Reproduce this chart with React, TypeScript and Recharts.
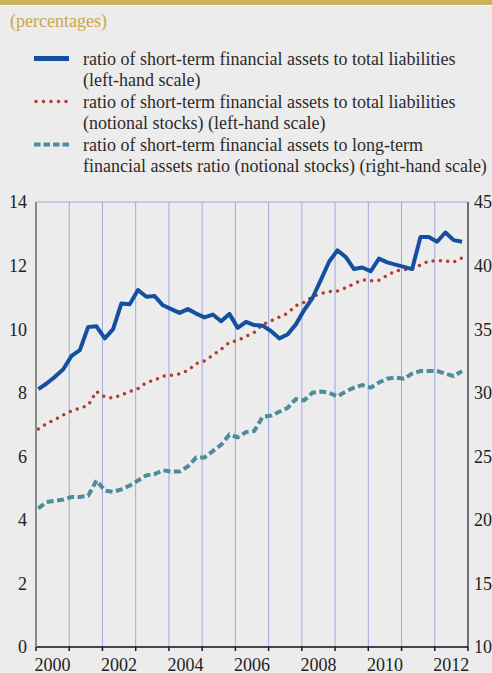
import React from 'react';
import { LineChart, Line, XAxis, YAxis, CartesianGrid } from 'recharts';

const FONT = '"Liberation Serif", "Times New Roman", serif';

const years = [2000, 2001, 2002, 2003, 2004, 2005, 2006, 2007, 2008, 2009, 2010, 2011, 2012];
const quarterNames = ['Q1', 'Q2', 'Q3', 'Q4'];

// ratio of short-term financial assets to total liabilities (left-hand scale)
const shortToTotal = [
  8.11, 8.29, 8.5, 8.74, 9.16, 9.34, 10.07, 10.09, 9.71, 10.0, 10.81, 10.78, 11.23,
  11.02, 11.04, 10.75, 10.63, 10.51, 10.63, 10.49, 10.37, 10.46, 10.25, 10.48, 10.04, 10.23,
  10.13, 10.11, 9.94, 9.71, 9.83, 10.15, 10.6, 10.98, 11.54, 12.12, 12.48, 12.27, 11.89,
  11.94, 11.82, 12.22, 12.1, 12.03, 11.96, 11.89, 12.9, 12.9, 12.75, 13.04, 12.8, 12.75,
];

// same ratio, notional stocks (left-hand scale)
const shortToTotalNotional = [
  6.86, 7.03, 7.15, 7.3, 7.43, 7.51, 7.6, 8.04, 7.87, 7.83, 7.93, 8.04, 8.13,
  8.32, 8.4, 8.52, 8.55, 8.59, 8.7, 8.92, 9.0, 9.18, 9.37, 9.58, 9.65, 9.77,
  9.9, 10.15, 10.26, 10.38, 10.5, 10.74, 10.84, 11.02, 11.12, 11.18, 11.2, 11.3, 11.43,
  11.55, 11.52, 11.54, 11.69, 11.83, 11.87, 11.9, 12.02, 12.14, 12.15, 12.15, 12.11, 12.24,
];

// short-term to long-term financial assets, notional stocks (right-hand scale)
const shortToLongNotional = [
  20.9, 21.4, 21.5, 21.6, 21.8, 21.8, 21.9, 23.1, 22.3, 22.2, 22.4, 22.7, 23.1,
  23.5, 23.6, 23.9, 23.8, 23.8, 24.2, 24.9, 24.9, 25.4, 25.9, 26.7, 26.5, 26.9,
  27.0, 28.1, 28.2, 28.5, 28.8, 29.5, 29.4, 30.0, 30.1, 30.0, 29.7, 30.1, 30.4,
  30.6, 30.4, 30.8, 31.1, 31.2, 31.1, 31.5, 31.7, 31.7, 31.7, 31.5, 31.3, 31.7,
];

const leftTicks = [0, 2, 4, 6, 8, 10, 12, 14];
const rightTicks = [10, 15, 20, 25, 30, 35, 40, 45];
const yearTicks = [2000, 2001, 2002, 2003, 2004, 2005, 2006, 2007, 2008, 2009, 2010, 2011, 2012, 2013];
const labelYears = [2000, 2002, 2004, 2006, 2008, 2010, 2012];

const data = years.flatMap((year, yi) =>
  quarterNames.map((q, qi) => {
    const i = yi * 4 + qi;
    return {
      quarter: `${year}${q}`,
      t: year + (qi + 0.28) / 4,
      a: shortToTotal[i],
      b: shortToTotalNotional[i],
      c: shortToLongNotional[i],
    };
  })
);

const BLUE = '#1550a0';
const RED = '#b23b2f';
const TEAL = '#4d8c9c';
const GRID = '#9da8e2';

const YearTick = (props: any) => {
  const { x, y, payload } = props;
  if (!labelYears.includes(payload.value)) return <g />;
  return (
    <text x={x + 16.6} y={y} dy={18} textAnchor="middle" fill="#222" fontSize={18} fontFamily={FONT}>
      {payload.value}
    </text>
  );
};

const legendItems = [
  { color: BLUE, dash: undefined, width: 5, cap: 'butt', lines: ['ratio of short-term financial assets to total liabilities', '(left-hand scale)'] },
  { color: RED, dash: '0 7.5', width: 3.5, cap: 'round', lines: ['ratio of short-term financial assets to total liabilities', '(notional stocks) (left-hand scale)'] },
  { color: TEAL, dash: '6.5 3', width: 4, cap: 'butt', lines: ['ratio of short-term financial assets to long-term', 'financial assets ratio (notional stocks) (right-hand scale)'] },
];

export default function App() {
  return (
    <div style={{ position: 'absolute', left: 0, top: 0, width: 492, height: 673, background: '#ececec', overflow: 'hidden', fontFamily: FONT }}>
      <div style={{ position: 'absolute', left: 0, top: 0, width: 492, height: 5, background: '#c9b35b' }} />
      <div style={{ position: 'absolute', left: 0, top: 5, width: 492, height: 1, background: '#ffffff' }} />
      <div style={{ position: 'absolute', left: 10, top: 10.7, fontSize: 18, lineHeight: '21.5px', color: '#c8a84b', whiteSpace: 'nowrap' }}>
        (percentages)
      </div>
      <svg style={{ position: 'absolute', left: 0, top: 0 }} width={80} height={180}>
        {legendItems.map((it, k) => (
          <line
            key={k}
            x1={it.cap === 'round' ? 36 : 34}
            x2={69}
            y1={58.5 + k * 43}
            y2={58.5 + k * 43}
            stroke={it.color}
            strokeWidth={it.width}
            strokeDasharray={it.dash}
            strokeLinecap={it.cap as any}
          />
        ))}
      </svg>
      <div style={{ position: 'absolute', left: 83, top: 48.7, fontSize: 18, lineHeight: '21.5px', color: '#2b2b2b', whiteSpace: 'nowrap' }}>
        {legendItems.flatMap((it) => it.lines).map((l, k) => (
          <div key={k}>{l}</div>
        ))}
      </div>
      <div style={{ position: 'absolute', left: 0, top: 0 }}>
        <LineChart width={492} height={673} data={data} margin={{ top: 202, right: 0, bottom: 0, left: 0 }}>
          <CartesianGrid stroke={GRID} strokeWidth={1} />
          <XAxis
            dataKey="t"
            type="number"
            domain={[2000, 2013]}
            ticks={yearTicks}
            interval={0}
            height={26}
            tick={<YearTick />}
            tickSize={4}
            tickMargin={2}
            axisLine={{ stroke: '#1a1a1a', strokeWidth: 1.5 }}
            tickLine={{ stroke: '#1a1a1a', strokeWidth: 1.5 }}
          />
          <YAxis
            yAxisId="left"
            domain={[0, 14]}
            ticks={leftTicks}
            interval={0}
            width={36}
            tickSize={0}
            tickMargin={9}
            axisLine={{ stroke: '#8a8a8a', strokeWidth: 2 }}
            tickLine={false}
            tick={{ fill: '#222', fontSize: 18, fontFamily: FONT }}
          />
          <YAxis
            yAxisId="right"
            orientation="right"
            domain={[10, 45]}
            ticks={rightTicks}
            interval={0}
            width={24}
            tickSize={0}
            tickMargin={6}
            axisLine={{ stroke: '#111', strokeWidth: 1 }}
            tickLine={false}
            tick={{ fill: '#222', fontSize: 18, fontFamily: FONT, textAnchor: 'start' }}
          />
          <Line
            yAxisId="right"
            dataKey="c"
            type="linear"
            stroke={TEAL}
            strokeWidth={4}
            strokeDasharray="7 3.5"
            dot={false}
            isAnimationActive={false}
          />
          <Line
            yAxisId="left"
            dataKey="b"
            type="linear"
            stroke={RED}
            strokeWidth={3.5}
            strokeDasharray="0 7.3"
            strokeLinecap="round"
            dot={false}
            isAnimationActive={false}
          />
          <Line
            yAxisId="left"
            dataKey="a"
            type="linear"
            stroke={BLUE}
            strokeWidth={4}
            strokeLinejoin="round"
            dot={false}
            isAnimationActive={false}
          />
        </LineChart>
      </div>
    </div>
  );
}
